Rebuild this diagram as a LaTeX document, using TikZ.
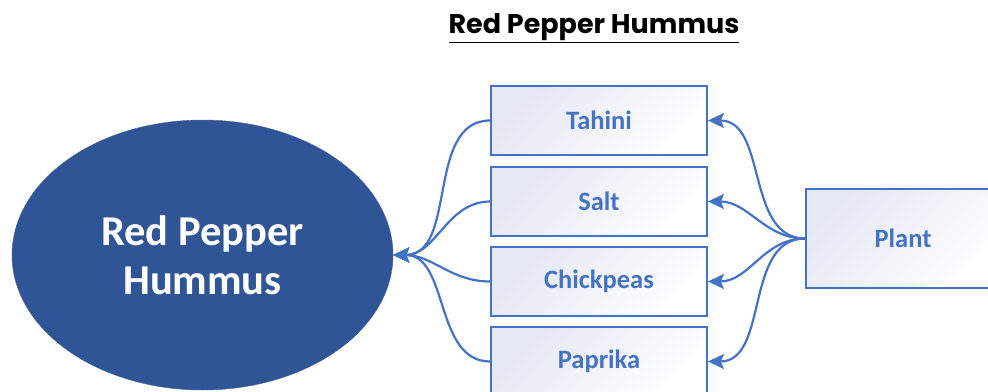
\documentclass[tikz,border=0pt]{standalone}
\usepackage{fontspec}
\setmainfont{Carlito}
\newfontfamily\gothic{Poppins}
\usetikzlibrary{arrows.meta,shapes.geometric}
\definecolor{ellblue}{RGB}{47,85,151}
\definecolor{boxblue}{RGB}{68,114,196}
\definecolor{boxlav}{RGB}{228,231,244}
\tikzset{
  ingbox/.style={draw=boxblue, line width=1.8pt, top color=boxlav, bottom color=white, shading angle=45,
    minimum width=216pt, minimum height=69pt, inner sep=0pt, text=boxblue, font=\fontsize{26.5}{30}\selectfont\bfseries},
  link/.style={draw=boxblue, line width=2.2pt, -{Stealth[length=16pt,width=15pt,inset=3pt]}},
}
\begin{document}
\begin{tikzpicture}[x=1pt,y=-1pt]
\useasboundingbox (0,0) rectangle (988,391);
\node (title) at (594,28) {\gothic\fontsize{27}{30}\selectfont\bfseries\underline{Red Pepper Hummus}};
\node[ellipse, fill=ellblue, draw=ellblue!70!gray, line width=0.4pt, minimum width=381pt, minimum height=270pt, inner sep=0pt,
  text=white, align=center, font=\fontsize{42.5}{49}\selectfont\bfseries] (hum) at (202.5,255) {Red Pepper\\Hummus};
\node[ingbox] (tah) at (599,120.5) {Tahini};
\node[ingbox] (salt) at (599,201.5) {Salt};
\node[ingbox] (chick) at (599,281.5) {Chickpeas};
\node[ingbox] (pap) at (599,361.5) {Paprika};
\node[ingbox, minimum width=194pt, minimum height=99pt] (plant) at (903,238.5) {Plant};
\foreach \b in {tah,salt,chick,pap}{
  \draw[link] (\b.west) to[out=180,in=0] (hum.east);
  \draw[link] (plant.west) to[out=180,in=0] (\b.east);
}
\end{tikzpicture}
\end{document}
